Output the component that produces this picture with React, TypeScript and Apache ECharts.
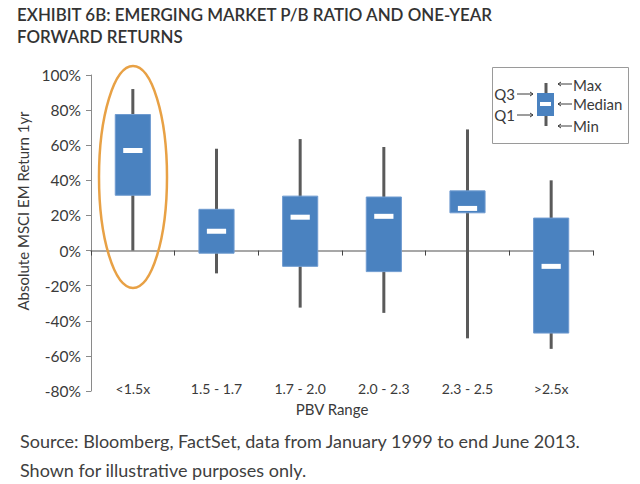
import React, { useEffect, useRef } from "react";
import * as echarts from "echarts";

const categories = ["<1.5x", "1.5 - 1.7", "1.7 - 2.0", "2.0 - 2.3", "2.3 - 2.5", ">2.5x"];
const minValues = [0, -13, -32.5, -35.5, -50, -56];
const q1Values = [31.5, -1.5, -9, -12, 21.5, -47];
const medianValues = [57, 11, 19, 19.5, 24, -9];
const q3Values = [77.5, 23.5, 31, 30.5, 34, 18.5];
const maxValues = [92, 58, 63.5, 59, 69, 40];
const yTicks = { min: -80, max: 100, interval: 20 };

const TITLE = "EXHIBIT 6B: EMERGING MARKET P/B RATIO AND ONE-YEAR\nFORWARD RETURNS";
const SOURCE = "Source: Bloomberg, FactSet, data from January 1999 to end June 2013.\nShown for illustrative purposes only.";

const FONT = "Lato";
const BOX_COLOR = "#4a82c0";
const WHISKER = "#5a5a5a";
const TEXT = "#3a3a3a";
const AXIS = "#8a8a8a";

export default function App() {
  const ref = useRef<HTMLDivElement>(null);
  useEffect(() => {
    if (!ref.current) return;
    const chart = echarts.init(ref.current, undefined, { renderer: "svg" });
    const data = categories.map((_, i) => [i, minValues[i], q1Values[i], medianValues[i], q3Values[i], maxValues[i]]);

    const arrowRight = (x1: number, x2: number, y: number) => [
      { type: "line", shape: { x1, y1: y, x2, y2: y }, style: { stroke: TEXT, lineWidth: 1 } },
      { type: "polyline", shape: { points: [[x2 - 3, y - 2], [x2, y], [x2 - 3, y + 2]] }, style: { stroke: TEXT, lineWidth: 1, fill: "none" } },
    ];
    const arrowLeft = (x1: number, x2: number, y: number) => [
      { type: "line", shape: { x1, y1: y, x2, y2: y }, style: { stroke: TEXT, lineWidth: 1 } },
      { type: "polyline", shape: { points: [[x1 + 3, y - 2], [x1, y], [x1 + 3, y + 2]] }, style: { stroke: TEXT, lineWidth: 1, fill: "none" } },
    ];
    const legendText = (text: string, x: number, y: number, align: string) => ({
      type: "text",
      x,
      y,
      style: { text, fill: TEXT, font: `15px ${FONT}`, textAlign: align, textVerticalAlign: "middle" },
    });

    chart.setOption({
      animation: false,
      backgroundColor: "#ffffff",
      textStyle: { fontFamily: FONT },
      title: [
        {
          text: TITLE,
          left: 17,
          top: 3.5,
          padding: 0,
          textStyle: { fontFamily: FONT, fontSize: 16.9, fontWeight: 600, color: "#333333", lineHeight: 22 },
        },
        {
          text: SOURCE,
          left: 20,
          top: 426.5,
          padding: 0,
          textStyle: { fontFamily: FONT, fontSize: 18, fontWeight: 400, color: "#404040", lineHeight: 29 },
        },
      ],
      grid: { left: 91, right: 47, top: 75, bottom: 93, containLabel: false },
      xAxis: [
        {
          type: "category",
          data: categories,
          position: "bottom",
          axisLine: { onZero: true, lineStyle: { color: AXIS, width: 1.5 } },
          axisTick: { show: true, length: 5, lineStyle: { color: "#444" } },
          axisLabel: { show: false },
        },
        {
          type: "category",
          data: categories,
          position: "bottom",
          axisLine: { show: false, onZero: false },
          axisTick: { show: false },
          axisLabel: { margin: -3, verticalAlign: "middle", color: TEXT, fontSize: 14, fontFamily: FONT },
          name: "PBV Range",
          nameLocation: "middle",
          nameGap: 10,
          nameTextStyle: { color: TEXT, fontSize: 15, fontFamily: FONT, padding: [0, 20, 0, 0] },
        },
      ],
      yAxis: {
        type: "value",
        min: yTicks.min,
        max: yTicks.max,
        interval: yTicks.interval,
        axisLine: { show: true, lineStyle: { color: AXIS, width: 1 } },
        axisTick: { show: true, length: 5, lineStyle: { color: AXIS } },
        splitLine: { show: false },
        axisLabel: { formatter: "{value}%", color: TEXT, fontSize: 15.5, fontFamily: FONT, margin: 10 },
        name: "Absolute MSCI EM Return 1yr",
        nameLocation: "middle",
        nameGap: 55,
        nameTextStyle: { color: TEXT, fontSize: 15, fontFamily: FONT, padding: [0, 0, 0, 44] },
      },
      series: [
        {
          type: "custom",
          xAxisIndex: 0,
          yAxisIndex: 0,
          data,
          encode: { x: 0, y: [1, 2, 3, 4, 5] },
          renderItem: (params: any, api: any) => {
            const idx = api.value(0);
            const mn = api.coord([idx, api.value(1)]);
            const q1 = api.coord([idx, api.value(2)]);
            const md = api.coord([idx, api.value(3)]);
            const q3 = api.coord([idx, api.value(4)]);
            const mx = api.coord([idx, api.value(5)]);
            const band = api.size([1, 0])[0];
            const bw = band * 0.42;
            const mw = band * 0.23;
            return {
              type: "group",
              children: [
                { type: "line", shape: { x1: mn[0], y1: mn[1], x2: mx[0], y2: mx[1] }, style: { stroke: WHISKER, lineWidth: 3 } },
                {
                  type: "rect",
                  shape: { x: q3[0] - bw / 2, y: q3[1], width: bw, height: q1[1] - q3[1] },
                  style: { fill: BOX_COLOR, stroke: "#6f9bd0", lineWidth: 1 },
                },
                { type: "rect", shape: { x: md[0] - mw / 2, y: md[1] - 2.5, width: mw, height: 5 }, style: { fill: "#ffffff" } },
              ],
            };
          },
        },
      ],
      graphic: [
        {
          type: "ellipse",
          shape: { cx: 133, cy: 177, rx: 34, ry: 111 },
          style: { fill: "none", stroke: "#e8a145", lineWidth: 2.5 },
          z: 100,
        },
        {
          type: "group",
          children: [
            { type: "rect", shape: { x: 492.5, y: 67.5, width: 136, height: 76 }, style: { fill: "#ffffff", stroke: "#9a9a9a", lineWidth: 1 } },
            { type: "line", shape: { x1: 546, y1: 83, x2: 546, y2: 126 }, style: { stroke: WHISKER, lineWidth: 3 } },
            { type: "rect", shape: { x: 537, y: 93, width: 17, height: 23 }, style: { fill: BOX_COLOR } },
            { type: "rect", shape: { x: 540, y: 102, width: 11, height: 4 }, style: { fill: "#ffffff" } },
            legendText("Q3", 515, 94, "right"),
            legendText("Q1", 515, 115, "right"),
            ...arrowRight(517, 533, 94),
            ...arrowRight(517, 533, 115),
            ...arrowLeft(558, 572, 84),
            ...arrowLeft(558, 572, 104),
            ...arrowLeft(558, 572, 126),
            legendText("Max", 573, 85, "left"),
            legendText("Median", 573, 104, "left"),
            legendText("Min", 573, 126, "left"),
          ],
        },
      ],
    });
    return () => chart.dispose();
  }, []);
  return <div ref={ref} style={{ position: "absolute", left: 0, top: 0, width: 640, height: 484 }} />;
}
